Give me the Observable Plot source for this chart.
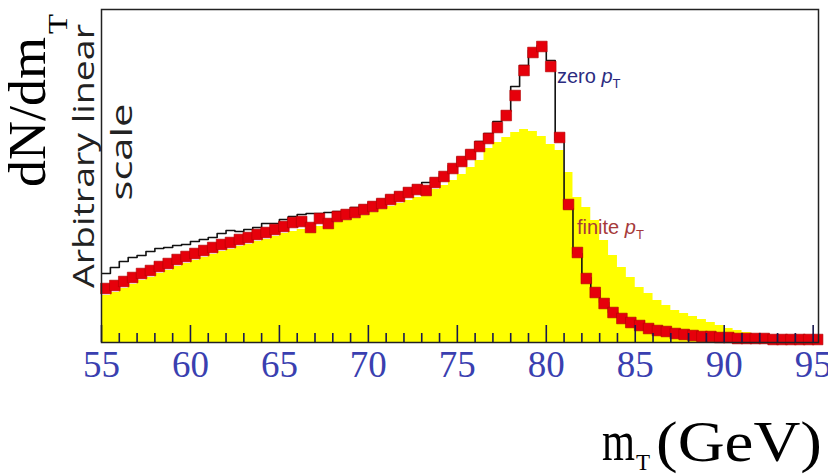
<!DOCTYPE html>
<html><head><meta charset="utf-8">
<script src="https://cdn.jsdelivr.net/npm/d3@7"></script>
<script src="https://cdn.jsdelivr.net/npm/@observablehq/plot@0.6"></script>
<style>body{margin:0;background:#fff;}</style>
</head><body><div id="chart"></div>
<script>
// bin starts (GeV), 0.5 GeV bins
const binStarts = [55,55.5,56,56.5,57,57.5,58,58.5,59,59.5,
60,60.5,61,61.5,62,62.5,63,63.5,64,64.5,
65,65.5,66,66.5,67,67.5,68,68.5,69,69.5,
70,70.5,71,71.5,72,72.5,73,73.5,74,74.5,
75,75.5,76,76.5,77,77.5,78,78.5,79,79.5,
80,80.5,81,81.5,82,82.5,83,83.5,84,84.5,
85,85.5,86,86.5,87,87.5,88,88.5,89,89.5,
90,90.5,91,91.5,92,92.5,93,93.5,94,94.5,
95];
const lastEdge = 95.5;
// zero pT histogram (black line), arbitrary units
const zeroPt = [69,75,81,85,87,91,94,95,97,98,
101,103,105,109,112,111,113,115,119,119,
123,126,128,129,129,130,131,132,135,137,
140,143,147,150,154,157,160,164,169,177,
185,192,201,209,221,231,256,277,292,297,
282,202,134,89,65,52,40,30,25,22,
18,15,13,11,9.5,8,7,6,5,4.5,
4,3.5,3,3,2.5,2.5,2,2,2,2,
2];
// red points
const redPts = [54,57,61,65,69,72,76,79,83,86,
89,92,95,98,100,103,105,108,110,113,
116,120,121,115,124,119,126,128,130,133,
136,139,143,146,150,153,152,160,166,174,
181,188,196,204,215,227,247,272,290,296,
276,205,138,90,64,50,39,30,24,20,
17,14,12,11,9,8,7,6,6,5,
5,4,4,4,4,3,3,3,3,3,
3];
// finite pT histogram (yellow)
const finitePt = [47,50,54,58,62,65,69,72,76,79,
82,85,88,91,93,96,98,101,103,106,
109,111,113,114,116,118,120,122,124,127,
130,133,136,139,142,145,149,153,157,162,
168,175,182,194,200,205,210,213,211,206,
198,192,170,145,135,122,102,87,75,65,
55,49,42,37,32,29,26,23,20,17,
14,12,10,8,6.5,5,4,3,2.5,2,
2];
const majorTicks = [55,60,65,70,75,80,85,90,95];
const tickLabels = ["55","60","65","70","75","80","85","90","95"];
const minorTicks = [56,57,58,59,61,62,63,64,66,67,68,69,71,72,73,74,76,77,78,79,81,82,83,84,86,87,88,89,91,92,93,94];

const stepData = binStarts.map((x, i) => ({x, zero: zeroPt[i], yellow: finitePt[i]}));
stepData.push({x: lastEdge, zero: zeroPt[zeroPt.length - 1], yellow: finitePt[finitePt.length - 1]});
const redData = binStarts.map((x, i) => ({x: x + 0.25, v: redPts[i]}));
const minorTickData = minorTicks.map(x => ({x, y1: 0, y2: 9}));
const majorTickData = majorTicks.map(x => ({x, y1: 0, y2: 17}));

const tickColor = "#1a1a50";
const chart = Plot.plot({
  width: 828, height: 474,
  marginLeft: 101, marginRight: 10, marginTop: 9, marginBottom: 132,
  style: {background: "#fff", fontFamily: "'Liberation Serif', serif"},
  x: {domain: [55, 95.3]},
  y: {domain: [0, 333], axis: null},
  marks: [
    Plot.areaY(stepData, {x: "x", y: "yellow", curve: "step-after", fill: "#ffff00", clip: true}),
    Plot.lineY(stepData, {x: "x", y: "zero", curve: "step-after", stroke: "#111", strokeWidth: 1.6, clip: true}),
    Plot.dot(redData, {x: "x", y: "v", symbol: "square", r: 6, fill: "#e6000b", stroke: "#b00000", strokeWidth: 0.6}),
    Plot.ruleX(minorTickData, {x: "x", y1: "y1", y2: "y2", stroke: tickColor, strokeWidth: 1.6}),
    Plot.ruleX(majorTickData, {x: "x", y1: "y1", y2: "y2", stroke: tickColor, strokeWidth: 1.6}),
    Plot.frame({stroke: "#222", strokeWidth: 1.5}),
    Plot.axisX(majorTicks, {tickSize: 0, tickPadding: 8, fontSize: 37, color: "#3a3fb0", fontFamily: "'Liberation Serif', serif", tickFormat: (d, i) => tickLabels[i], label: null})
  ]
});
document.getElementById("chart").appendChild(chart);

const svg = d3.select(chart);
const serif = "'Liberation Serif', 'Times New Roman', serif";
const sans = "'Liberation Sans', Arial, sans-serif";
const addText = (attrs) => {
  const t = svg.append("text").attr("text-anchor", "start");
  for (const k in attrs) t.attr(k, attrs[k]);
  return t;
};

// y title dN/dm_T
addText({transform: "translate(45,187) rotate(-90)", "font-family": serif, "font-size": 52, fill: "#000",
  textLength: 150, lengthAdjust: "spacingAndGlyphs"}).text("dN/dm");
addText({transform: "translate(67,34) rotate(-90)", "font-family": serif, "font-size": 28, fill: "#000",
  textLength: 20, lengthAdjust: "spacingAndGlyphs"}).text("T");

// Arbitrary linear scale
addText({transform: "translate(94,156) rotate(-90)", "font-family": "'Open Sans', sans-serif", "font-size": 30,
  fill: "#222", "text-anchor": "middle", textLength: 264, lengthAdjust: "spacingAndGlyphs"}).text("Arbitrary linear");
addText({transform: "translate(132,152) rotate(-90)", "font-family": "'Open Sans', sans-serif", "font-size": 30,
  fill: "#222", "text-anchor": "middle", textLength: 97, lengthAdjust: "spacingAndGlyphs"}).text("scale");

// x title m_T (GeV)
addText({x: 602, y: 460, "font-family": serif, "font-size": 56, fill: "#000",
  textLength: 33, lengthAdjust: "spacingAndGlyphs"}).text("m");
addText({x: 636, y: 470, "font-family": serif, "font-size": 23, fill: "#000"}).text("T");
addText({x: 656, y: 461, "font-family": serif, "font-size": 56, fill: "#000",
  textLength: 166, lengthAdjust: "spacingAndGlyphs"}).text("(GeV)");

// annotations
const zl = addText({x: 557, y: 83, "font-family": sans, "font-size": 20, fill: "#2b2b80"});
zl.append("tspan").text("zero ");
zl.append("tspan").attr("font-style", "italic").text("p");
zl.append("tspan").attr("font-size", 13).attr("dy", 5).text("T");

const fl = addText({x: 577, y: 234, "font-family": sans, "font-size": 20, fill: "#a63a3a"});
fl.append("tspan").text("finite ");
fl.append("tspan").attr("font-style", "italic").text("p");
fl.append("tspan").attr("font-size", 13).attr("dy", 5).text("T");
</script>
</body></html>
